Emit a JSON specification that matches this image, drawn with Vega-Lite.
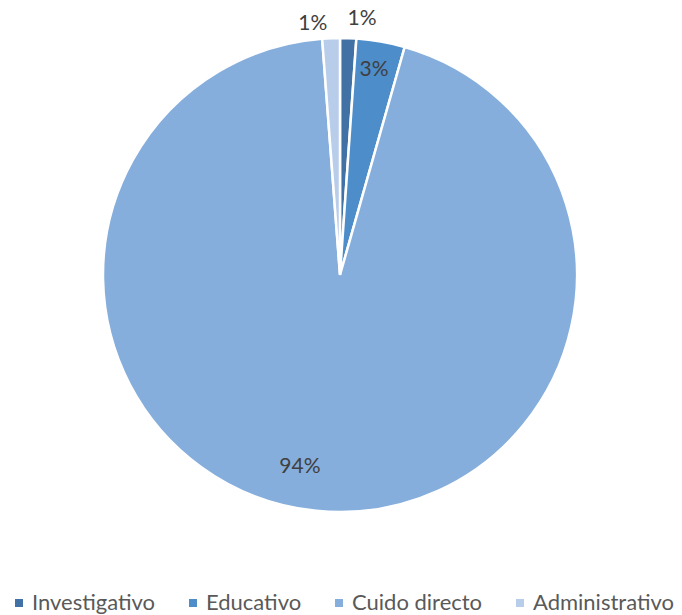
{
  "$schema": "https://vega.github.io/schema/vega-lite/v6.json",
  "width": 680,
  "height": 550,
  "padding": 0,
  "autosize": {"type": "pad"},
  "background": "white",
  "config": {"view": {"stroke": null}},
  "data": {
    "values": [
      {"category": "Investigativo", "value": 0.011, "order": 1},
      {"category": "Educativo", "value": 0.033, "order": 2},
      {"category": "Cuido directo", "value": 0.944, "order": 3},
      {"category": "Administrativo", "value": 0.012, "order": 4}
    ]
  },
  "layer": [
    {
      "mark": {"type": "arc", "radius": 237, "stroke": "white", "strokeWidth": 2.5},
      "encoding": {
        "theta": {"field": "value", "type": "quantitative", "stack": true},
        "order": {"field": "order", "type": "quantitative"},
        "color": {
          "field": "category",
          "type": "nominal",
          "sort": ["Investigativo", "Educativo", "Cuido directo", "Administrativo"],
          "scale": {
            "domain": ["Investigativo", "Educativo", "Cuido directo", "Administrativo"],
            "range": ["#4272A5", "#4D8DC9", "#85AEDC", "#B8CDEA"]
          },
          "legend": {
            "title": null,
            "orient": "none",
            "legendX": 8,
            "legendY": 592,
            "direction": "horizontal",
            "padding": 0,
            "symbolType": "square",
            "symbolSize": 64,
            "symbolStrokeWidth": 0,
            "labelFont": "Lato",
            "labelFontSize": 22,
            "labelColor": "#595959",
            "labelOffset": 2,
            "columnPadding": 26,
            "labelLimit": 300
          }
        }
      }
    },
    {
      "transform": [
        {"window": [{"op": "sum", "field": "value", "as": "cum"}], "sort": [{"field": "order"}]},
        {"filter": "datum.category == 'Investigativo'"}
      ],
      "mark": {"type": "text", "radius": 257, "thetaOffset": 0.0164, "font": "Lato", "fontSize": 21, "color": "#404040"},
      "encoding": {
        "theta": {"field": "cum", "type": "quantitative", "stack": null},
        "text": {"field": "value", "type": "quantitative", "format": ".0%"}
      }
    },
    {
      "transform": [
        {"window": [{"op": "sum", "field": "value", "as": "cum"}], "sort": [{"field": "order"}]},
        {"filter": "datum.category == 'Educativo'"}
      ],
      "mark": {"type": "text", "radius": 208, "thetaOffset": -0.1124, "font": "Lato", "fontSize": 21, "color": "#404040"},
      "encoding": {
        "theta": {"field": "cum", "type": "quantitative", "stack": null},
        "text": {"field": "value", "type": "quantitative", "format": ".0%"}
      }
    },
    {
      "transform": [
        {"window": [{"op": "sum", "field": "value", "as": "cum"}], "sort": [{"field": "order"}]},
        {"filter": "datum.category == 'Cuido directo'"}
      ],
      "mark": {"type": "text", "radius": 196, "thetaOffset": -2.86, "font": "Lato", "fontSize": 21, "color": "#404040"},
      "encoding": {
        "theta": {"field": "cum", "type": "quantitative", "stack": null},
        "text": {"field": "value", "type": "quantitative", "format": ".0%"}
      }
    },
    {
      "transform": [
        {"window": [{"op": "sum", "field": "value", "as": "cum"}], "sort": [{"field": "order"}]},
        {"filter": "datum.category == 'Administrativo'"}
      ],
      "mark": {"type": "text", "radius": 252, "thetaOffset": -0.1082, "font": "Lato", "fontSize": 21, "color": "#404040"},
      "encoding": {
        "theta": {"field": "cum", "type": "quantitative", "stack": null},
        "text": {"field": "value", "type": "quantitative", "format": ".0%"}
      }
    }
  ]
}
